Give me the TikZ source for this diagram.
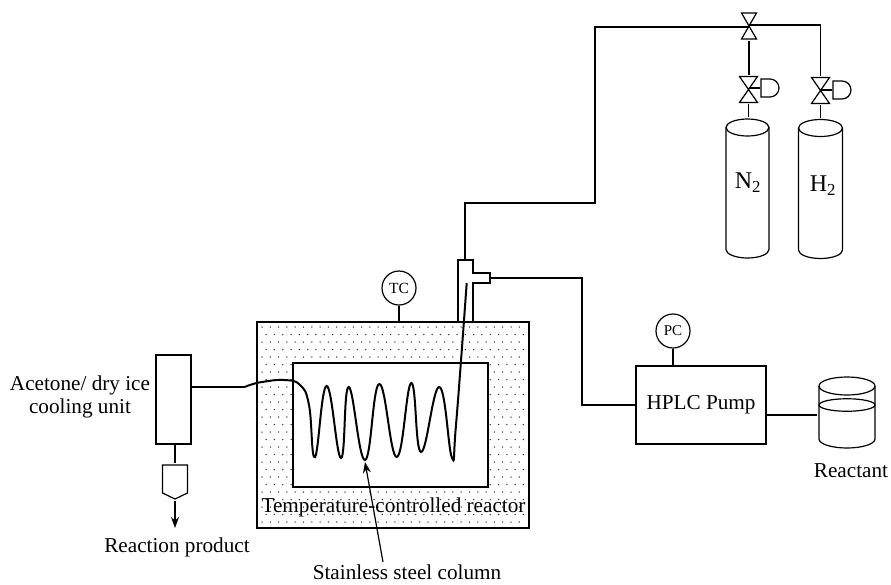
\documentclass[tikz,border=0pt]{standalone}
\usepackage{fontspec}
\setmainfont{Liberation Serif}
\usetikzlibrary{shapes.geometric, shapes.misc, arrows.meta, positioning}

\begin{document}
\begin{tikzpicture}[
			x=1pt, y=-1pt,
			line width=1.2pt,
			label/.style={align=center, inner sep=0pt, font=\fontsize{21.2}{23}\selectfont},
			box/.style={draw, rectangle, inner sep=0pt},
			gauge/.style={draw, circle, minimum size=34pt, inner sep=0pt},
			vessel/.style 2 args={minimum width=#1, inner sep=0pt, path picture={
				\draw ([yshift={-#2-1pt}]path picture bounding box.north) ellipse ({#1/2-1pt} and #2);
				\draw ([xshift=1pt,yshift={-#2-1pt}]path picture bounding box.north west) -- ([xshift=1pt,yshift={#2+1pt}]path picture bounding box.south west) arc [start angle=180, end angle=360, x radius={#1/2-1pt}, y radius=#2] -- ([xshift=-1pt,yshift={-#2-1pt}]path picture bounding box.north east);}},
			valve/.style={minimum width=#1, minimum height=28pt, inner sep=0pt, path picture={
				\draw ([xshift=1pt,yshift=-1pt]path picture bounding box.north west) -- ([xshift=-1pt,yshift=-1pt]path picture bounding box.north east) -- ([xshift=1pt,yshift=1pt]path picture bounding box.south west) -- ([xshift=-1pt,yshift=1pt]path picture bounding box.south east) -- cycle;}},
			actuator/.style={draw, rounded rectangle, rounded rectangle left arc=none, minimum width=16pt, minimum height=18pt, inner sep=0pt},
			collector/.style={minimum width=27pt, minimum height=36pt, inner sep=0pt, path picture={
				\draw ([xshift=1pt,yshift=-1pt]path picture bounding box.north west) -- ([xshift=-1pt,yshift=-1pt]path picture bounding box.north east) -- ([xshift=-1pt,yshift=7pt]path picture bounding box.south east) -- ([yshift=1pt]path picture bounding box.south) -- ([xshift=1pt,yshift=7pt]path picture bounding box.south west) -- cycle;}},
			arrow/.style={-{Stealth[length=11pt,width=8pt]}}
			]
			\useasboundingbox (0,0) rectangle (891,584);
			
			% Reactor
			\node (reactor) [box, line width=2pt, minimum width=272pt, minimum height=206pt] at (393,425) {};
			\foreach \row in {0,...,26} {
				\foreach \col in {0,...,31} {
					\fill [black!80] ({262+8.3*\col+4.15*mod(\row,2)},{327+7.5*\row}) circle (0.75pt);
				}
			}
			\node (chamber) [box, fill=white, minimum width=195pt, minimum height=124pt] at (390.5,425) {};
			\node (reactor_text) [label] at (393.5,507) {Temperature-controlled reactor};
			
			% Nodes
			\node (tc) [gauge, font=\fontsize{15.5}{15.5}\selectfont] at (399,288) {TC};
			\node (pc) [gauge, font=\fontsize{15}{15}\selectfont] at (673,331) {PC};
			\node (pump) [box, minimum width=130pt, minimum height=78pt, label] at (701,405) {HPLC Pump};
			\node (cooler) [box, minimum width=35pt, minimum height=89pt] at (173.5,399.5) {};
			\node (cooler_text) [label] at (80,396.5) {Acetone/ dry ice\\cooling unit};
			\node (receiver) [collector] at (175,482) {};
			\node (product_text) [label] at (177,547) {Reaction product};
			\node (beaker) [vessel={58pt}{9pt}, minimum height=73pt] at (847,412.5) {};
			\node (liquid) [draw, ellipse, minimum width=56pt, minimum height=12.5pt, inner sep=0pt] at (847,405) {};
			\node (reactant_text) [label, below=13pt of beaker, xshift=4pt] {Reactant};
			\node (column_text) [label] at (407,572.5) {Stainless steel column};
			
			% Gas side
			\node (cyl_n) [vessel={45pt}{8.5pt}, minimum height=141pt] at (747.5,188.5) {};
			\node (cyl_h) [vessel={46pt}{8.5pt}, minimum height=141pt] at (820.5,189) {};
			\node (n_text) [label, font=\fontsize{24}{24}\selectfont] at (748,183) {N\textsubscript{2}};
			\node (h_text) [label, font=\fontsize{24}{24}\selectfont] at (823,186) {H\textsubscript{2}};
			\node (valve_main) [valve=17pt] at (749,26) {};
			\node (valve_n) [valve=20pt] at (748.5,89.5) {};
			\node (valve_h) [valve=20pt] at (820.5,90.5) {};
			\node (act_n) [actuator] at (770,88) {};
			\node (act_h) [actuator] at (842,90) {};
			
			% Tee piece
			\coordinate (tee_top) at (465,260);
			\coordinate (tee_side) at (490,278);
			\coordinate (column_in) at (245,387);
			\coordinate (column_out) at (466.7,283);
			\coordinate (pipe_a) at (465,203);
			\coordinate (pipe_b) at (595,27);
			\coordinate (pipe_c) at (582,405);
			\coordinate (product_end) at (175,528);
			\coordinate (column_tail) at (383,562);
			\coordinate (column_tip) at (365,462);
			\draw (458,322) -- (458,260) -- (473,260) -- (473,273) -- (490,273) -- (490,283) -- (473,283) -- (473,322);
			
			% Column
			\draw [line width=2pt] plot [smooth, tension=0.75] coordinates {(column_in) (250,385) (262,382) (284,380) (300,385) (309,405) (315,457) (326.7,386) (341,458) (348.7,387) (365,460) (379.3,384) (396.7,457) (411.3,383) (421,452) (439.3,387) (451.7,457) (456,425) (column_out)};
			
			% Connections
			\draw (tee_top) -- (pipe_a) -| (pipe_b) -- (valve_main.center |- pipe_b);
			\draw (valve_main.center |- 0,25) -- (valve_h.north |- 0,25) -- (valve_h.north);
			\draw (valve_main.south) -- (valve_main.south |- valve_n.north);
			\draw (valve_n.south) -- (valve_n.south |- cyl_n.north);
			\draw (valve_h.south) -- (valve_h.south |- cyl_h.north);
			\draw (valve_n.center |- act_n.west) -- (act_n.west);
			\draw (valve_h.center |- act_h.west) -- (act_h.west);
			\draw (tee_side) -| (pipe_c) -- (pump.west);
			\draw (tc.south) -- (tc.south |- reactor.north);
			\draw (pc.south) -- (pc.south |- pump.north);
			\draw (pump.east |- 0,415) -- (beaker.west |- 0,415);
			\draw (cooler.east |- column_in) -- (column_in);
			\draw (receiver.north |- cooler.south) -- (receiver.north);
			\draw [arrow] (receiver.south) -- (product_end);
			\draw [arrow] (column_tail) -- (column_tip);
			
		\end{tikzpicture}
\end{document}
